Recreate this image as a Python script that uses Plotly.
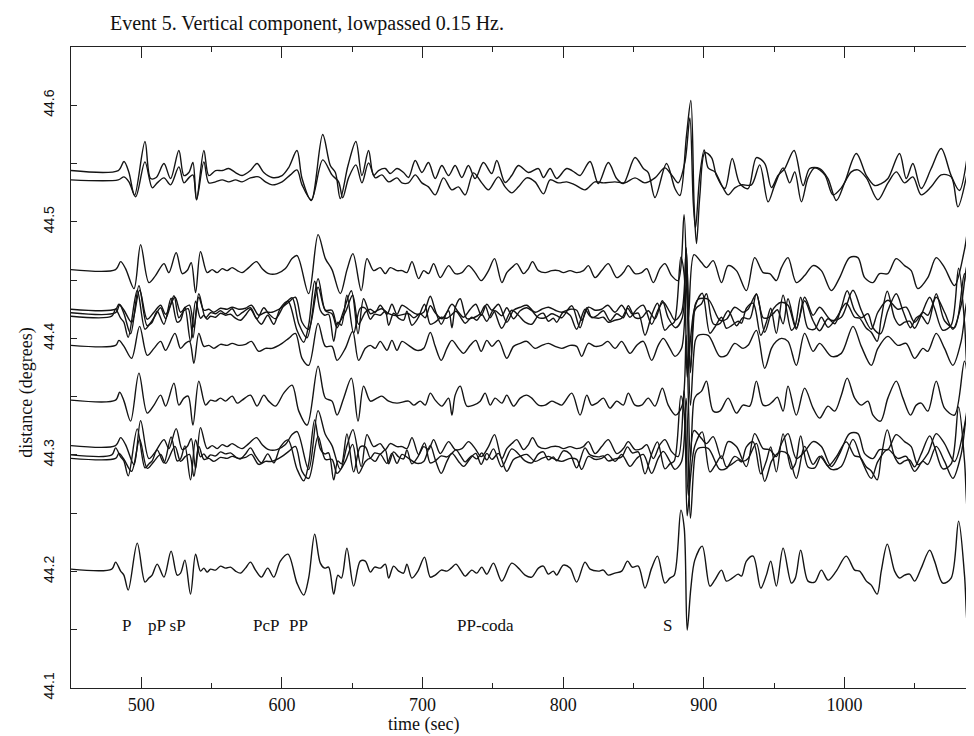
import plotly.graph_objects as go

# ---------------- data ----------------
# Epicentral distance (degrees) of each seismogram baseline
DISTANCES = [44.544, 44.536, 44.459, 44.425, 44.422, 44.419, 44.394, 44.347,
             44.308, 44.300, 44.297, 44.202]
# which recorded waveform is drawn at each distance
TRACE_WAVEFORMS = ["T1", "T2", "U1", "U2", "MID", "BOT", "U2", "MID",
                   "U1", "BOT", "U2", "BOT"]

# waveforms: (time in s, ground motion in plot amplitude units)
W_BOT = [(450,0),(479,0),(481.7,7),(485.3,-2),(487.6,-6),(490.7,-21),(497.1,26),(502.6,-13),(505.4,-9),(507.7,-6),(511.3,5),(516.1,-8),(521.2,18),(525.5,-6),(527.9,-4),(531,9),(535,-25),(538.6,15),(542.1,-2),(544.5,1),(546.8,-3),(549.2,0),(552.8,-1),(556.3,3),(559.9,1),(563.4,2),(567,-2),(570.5,-4),(574.1,1),(577.6,7),(581.2,-1),(585.4,-8),(589.9,1),(594.2,-8),(598.9,8),(604.3,15),(610.7,-14),(615.5,-26),(619,-9),(623.3,35),(627.3,6),(630.4,1),(633.2,2),(636.8,-25),(639.8,-6),(642.3,-9),(646.2,21),(651,-17),(655.7,8),(659.3,8),(662.9,-3),(665.9,2),(670,1),(673.5,5),(675.9,-9),(679.4,3),(683,-2),(686.5,-4),(688.9,5),(692.4,-9),(696.7,-2),(701.4,12),(705.5,-8),(709,-6),(713.3,-1),(717.3,-2),(720.4,1),(723.7,5),(727.5,-2),(730.3,-7),(735,-1),(738.6,-4),(742.1,2),(745.7,-5),(750.4,6),(756.3,-12),(763.4,6),(768.2,1),(772.9,-6),(777.6,-8),(782.4,1),(785.9,3),(789.5,-5),(793,-2),(795.4,-6),(800.1,4),(804.9,1),(809.6,-13),(815.5,7),(819.1,0),(825,-2),(828.6,-1),(832.1,-6),(836.8,-4),(841.6,-2),(845.8,8),(849.1,2),(853.4,3),(858.2,-19),(862.9,1),(867.1,13),(872.3,-14),(875.9,-9),(879,-6),(883.7,59),(886.1,41),(888.2,-61),(890.8,-19),(893.6,9),(898.9,23),(904.3,-17),(907.8,-11),(912.6,-1),(916.1,-12),(920.2,-9),(924.4,-5),(926.8,-7),(930.3,8),(935.1,13),(940.5,-19),(944.5,-6),(947.6,8),(951.6,-17),(956.4,21),(962.3,-14),(965.1,-9),(968.9,19),(974.1,-12),(978.9,-13),(983.6,-1),(988.4,-11),(994.2,-2),(1001.3,13),(1007.3,-1),(1010.8,-2),(1015.6,-12),(1019.1,-16),(1023.3,-25),(1026.2,-2),(1030.5,25),(1035.7,-2),(1039.3,-9),(1042.8,-6),(1046.4,-5),(1049.9,-12),(1054.6,1),(1060.6,19),(1064.1,8),(1070,-14),(1075.9,-9),(1081.2,48),(1085.4,-6),(1087.8,-62),(1091.3,-80),(1094.9,-60)]

W_MID = [(450,0),(481.7,0),(484.6,8),(487.7,-1),(492.4,-21),(498.3,27),(504.2,-13),(509,-5),(513.7,5),(517.3,-6),(523.2,17),(526.7,-5),(530.3,2),(533.3,4),(536.7,-25),(540.9,19),(545.7,-5),(549.2,0),(552.8,-1),(556.3,2),(559.9,-1),(564.6,4),(568.2,-3),(571.7,0),(577.6,5),(582.3,-6),(587.1,5),(590.6,-1),(595.4,-6),(601.3,7),(607.2,15),(612,-11),(617.9,-25),(625.7,34),(630.9,2),(635.6,-1),(639.2,-15),(643.9,2),(649.4,22),(654.1,-21),(658.1,14),(662.9,-1),(667.6,2),(671.1,4),(675.9,-1),(681.8,-3),(690.1,-1),(693.7,-5),(698.4,-1),(701.9,-5),(705.5,7),(709,0),(713.8,-6),(718.5,2),(720.9,-15),(723.2,5),(726.8,14),(731.5,-6),(736.3,-5),(741,-1),(744.5,7),(748.1,-5),(751.6,2),(756.4,-3),(759.9,5),(764.7,-6),(769.4,2),(774.1,5),(777.7,2),(782.4,-5),(787.2,-5),(791.9,-1),(795.4,-3),(799,-5),(806.1,7),(812,-15),(816.8,5),(820.3,-5),(823.9,-3),(828.6,2),(833.3,-8),(838.1,-1),(842.8,-5),(846.3,7),(851.1,-5),(855.8,-5),(860.5,2),(865.3,-6),(870.5,12),(874.7,-5),(880,-15),(884.7,-5),(887.5,65),(890.5,-60),(893,0),(894.8,5),(898.4,9),(901.9,19),(906.7,-11),(911.4,-11),(917.3,2),(923.2,-13),(927.9,-5),(932.7,-6),(937.4,19),(942.2,-5),(945.7,-5),(949.3,-1),(952.3,3),(956.4,-11),(959.9,14),(965.8,-15),(971.7,12),(977.7,-8),(982.4,-18),(988.3,-6),(993.1,-11),(997.8,5),(1002,22),(1007.3,2),(1012,-5),(1016.7,-1),(1020.3,-15),(1025.7,-21),(1030.9,2),(1036.9,19),(1041.6,2),(1047,-15),(1051.1,-5),(1054.6,-3),(1059.3,-11),(1065.3,19),(1071.2,-8),(1078.3,-15),(1085.4,39),(1089.6,-2),(1092.9,-35),(1097.2,-40)]

W_U1 = [(450,0),(481.7,0),(485.3,8),(488.8,1),(494.8,-19),(499.5,25),(505.4,-13),(510.1,-6),(516.1,6),(519.6,-3),(524.8,17),(529.1,-4),(532.6,-1),(535.5,7),(538.6,-23),(542.1,18),(546.8,-3),(550.4,0),(553.9,-3),(557.5,1),(561,-1),(564.6,2),(568.2,-1),(571.7,-3),(576.4,2),(581.9,8),(585.9,1),(590.6,-4),(596.5,-4),(602.5,1),(607.2,11),(610.8,14),(619,-24),(625.7,35),(630.9,11),(635.6,0),(641.5,-24),(646.3,0),(650.5,16),(656.4,-21),(660.5,11),(665.2,-1),(669.9,2),(673.5,-4),(677,2),(681.8,-1),(685.4,-1),(688.9,-3),(692.5,8),(697.2,-9),(700.8,-1),(704.3,-4),(707.9,6),(712.6,-8),(718.5,4),(723.2,-4),(728,-3),(732.7,4),(737.4,-3),(741.7,-11),(746.9,-1),(751.2,11),(756.4,-13),(759.9,-3),(763.5,2),(767,6),(771.8,-4),(775.3,1),(778.2,8),(782.4,-1),(787.2,-3),(791.9,-1),(796.6,-1),(800.2,-3),(804.9,-1),(809.6,-3),(814.4,-1),(817.9,4),(822.7,-8),(827.4,-1),(832.1,6),(838.1,-8),(842.8,-3),(846.3,4),(851.1,-4),(855.8,-3),(859.4,1),(864.1,-13),(868.8,1),(872.4,6),(877.1,-6),(881.8,-11),(886,55),(889,-50),(893,15),(898.4,7),(901.9,2),(906.7,9),(912.6,-13),(917.3,4),(923.2,-1),(930.3,-21),(936.2,12),(942.2,-3),(946.9,-4),(951.6,-11),(955.2,2),(959.9,12),(965.8,-13),(971.7,-6),(977.7,4),(983.6,-1),(990.7,-21),(996.6,-8),(1003.7,12),(1009.6,12),(1014.4,-8),(1020.3,-13),(1025,-4),(1030.9,-4),(1036.8,11),(1042.8,4),(1047.5,-1),(1052.2,-19),(1059.3,-8),(1065.3,12),(1071.2,2),(1078.3,-16),(1085.4,20),(1089.6,55),(1093.6,-50)]

W_U2 = [(450,0),(481.7,0),(484.1,5),(487.7,-1),(493.1,-13),(498.8,19),(504.2,-10),(509,-3),(513.7,4),(517.3,-5),(523.9,12),(527.9,-3),(531.4,2),(534.3,4),(537.4,-18),(540.9,12),(544.5,-1),(548,0),(551.6,-3),(556.3,1),(561,0),(564.6,2),(569.3,0),(574.1,1),(578.3,4),(583.5,-6),(588.3,-3),(593,-3),(600.1,2),(604.8,7),(609.6,12),(614.3,-13),(619,-20),(625.7,22),(630.9,-1),(635.6,-1),(639.2,-15),(645.1,-3),(650.3,14),(654.5,-15),(659.3,-3),(662.8,0),(666.4,-3),(669.9,4),(674.7,-5),(678.2,5),(681.8,-5),(685.4,4),(690.1,0),(696,-5),(700.8,-3),(705.5,13),(709,-1),(713.3,-15),(717.3,-3),(720.9,5),(725.6,-3),(729.2,-8),(733.9,0),(737.9,5),(741.7,-6),(745.7,5),(749.3,-1),(754,5),(759.9,-13),(764.7,-1),(769.4,2),(774.1,4),(780.1,-3),(784.8,0),(789.5,2),(794.3,-1),(799,-3),(804.9,0),(809.6,-1),(813.2,-11),(817.9,2),(822.7,-1),(827.4,0),(831.7,4),(836.9,-3),(841.6,4),(847.5,-8),(852.3,0),(857,4),(862.9,-15),(867.6,0),(871.2,7),(875.9,-3),(879.5,-11),(884.2,-3),(887.5,60),(890.5,-60),(894,5),(896,10),(903.1,10),(911.4,-11),(916.1,-10),(922,2),(927.9,-3),(931.5,0),(937.4,15),(943.3,-23),(948.1,-3),(951.6,4),(955.2,7),(959.9,4),(965.8,-20),(971.7,12),(977.7,-6),(982.4,2),(990.7,-11),(997.8,-8),(1006.1,19),(1012,-1),(1019.1,-20),(1023.8,-3),(1030.9,9),(1038,0),(1043.9,2),(1049.9,-13),(1055.8,-3),(1059.3,-6),(1065.3,12),(1071.2,-3),(1077.1,-20),(1083,4),(1087.3,45),(1091.3,-45),(1094.8,-60)]

W_T1 = [(450,0),(483.6,0),(487.7,9),(491.2,-2),(495.2,-25),(502.6,29),(506.6,-8),(510.6,-7),(516.1,7),(520.8,-8),(526.7,20),(530.3,-5),(533.8,-2),(536.7,8),(539.3,-29),(544.5,20),(548,-5),(552.8,0),(557.5,0),(562.2,2),(567,-2),(571.7,-5),(577.6,0),(582.3,7),(587.1,-2),(593,-7),(600.1,-5),(604.8,3),(610.7,20),(614.3,-8),(620.9,-30),(629,36),(634.4,5),(638,-2),(641.5,-28),(647,5),(652.6,29),(656.9,-5),(661.6,20),(665.2,-5),(668.7,0),(673.5,2),(677,-3),(681.8,2),(686.5,-2),(690,-7),(694.8,10),(699.5,-2),(704.2,8),(709,-8),(713.7,5),(718.5,-5),(723.2,5),(727.9,-7),(732.6,5),(737.4,-8),(743.3,8),(749.2,-3),(752.8,10),(758.7,-12),(763.4,-5),(768.2,5),(775.3,-2),(782.4,2),(786,-7),(790.7,2),(795.4,-8),(802.5,2),(808.4,-2),(812,-5),(819.1,9),(825,-13),(832.1,8),(838,-8),(842.8,-13),(851.1,13),(857,2),(860.5,-2),(865.3,-27),(873.5,7),(879.5,-18),(883,-25),(887.7,35),(890.8,70),(893.2,-38),(894.8,-73),(897.2,-25),(900.8,18),(905.5,13),(909,-5),(915,-18),(920.2,12),(925.6,-13),(931.5,-18),(937.4,13),(943.4,7),(948.1,-17),(952.8,-5),(957.6,2),(964.2,20),(970.6,-15),(975.3,2),(982.4,2),(988.3,-8),(994.3,-30),(1000.2,-12),(1008.5,17),(1015.6,-5),(1021.5,-15),(1026.2,-13),(1031,-8),(1039.2,17),(1044,-8),(1048.7,7),(1054.6,-18),(1061.7,2),(1068.8,22),(1075.9,-5),(1081.8,-20),(1087.8,18),(1090.6,60),(1093.7,-20),(1096.7,-60)]

W_T2 = [(450,0),(483.6,0),(487.7,3),(491.2,-2),(496,-17),(502.6,18),(507.8,-8),(511.3,-3),(516.1,2),(520.8,-5),(526.7,13),(530.3,-3),(533.8,2),(536.7,5),(539.3,-20),(544.5,18),(548,-3),(552.8,-2),(557.5,0),(562.2,-2),(567,0),(571.7,-2),(577.6,2),(583.5,3),(588.3,-2),(593,-5),(600.1,-2),(606,5),(610.7,10),(614.3,-5),(620.9,-20),(629,20),(635.6,5),(640.3,-2),(643.2,-18),(647.4,2),(652.6,15),(656.9,-3),(661.6,17),(666.4,2),(671.1,5),(675.9,-2),(681.8,2),(685.3,-3),(690,-3),(694.8,5),(699.5,-3),(704.2,-7),(709,-15),(714.9,2),(720.8,-10),(725.5,-7),(730.3,-15),(736.2,7),(742.1,-3),(746.8,-10),(753.9,3),(758.7,-7),(763.4,-13),(768.2,-7),(774.1,2),(780,-2),(786,-14),(790.7,0),(796.6,-3),(802.5,-2),(808.4,-5),(815.5,-10),(822.6,-2),(828.6,-3),(836.8,-2),(843.9,-3),(851.1,2),(858.1,-3),(865.3,2),(872.3,12),(877.1,5),(881.8,-3),(886.6,18),(890.1,62),(892.5,-22),(894.1,-48),(897.2,5),(900.3,30),(903.1,12),(907.9,8),(912.6,-5),(917.3,-15),(922.1,-8),(926.8,-5),(933.9,-5),(939.8,15),(945.7,-22),(950.5,-5),(956.4,12),(961.1,-3),(964.7,8),(969.4,-22),(974.1,2),(978.9,12),(986,5),(991.9,-15),(997.8,-8),(1004.9,8),(1009.6,10),(1015.6,2),(1023.8,-20),(1031,-3),(1036.9,8),(1042.8,-3),(1048.7,3),(1054.6,-15),(1061.7,-7),(1068.8,5),(1075.9,3),(1080.7,-27),(1086.6,2),(1090.8,42),(1093.7,22),(1096.7,-20)]

WAVEFORMS = {"BOT": W_BOT, "MID": W_MID, "U1": W_U1, "U2": W_U2, "T1": W_T1, "T2": W_T2}

# phase labels
PHASE_NAMES = ["P", "pP sP", "PcP", "PP", "PP-coda", "S"]
PHASE_TIMES = [489.4, 518.2, 588.5, 611.9, 744.7, 874.0]
PHASE_LABEL_DIST = 44.154

X_TICKS = [500, 600, 700, 800, 900, 1000]
Y_TICKS = [44.1, 44.2, 44.3, 44.4, 44.5, 44.6]

GAIN = 0.000858  # degrees of plot offset per amplitude unit

# ---------------- figure ----------------
SERIF = "Liberation Serif, Times New Roman, serif"
SANS = "Liberation Sans, Arial, sans-serif"

fig = go.Figure()
for dist, wname in zip(DISTANCES, TRACE_WAVEFORMS):
    wf = WAVEFORMS[wname]
    t = [p[0] for p in wf]
    y = [dist + GAIN * p[1] for p in wf]
    fig.add_trace(go.Scatter(x=t, y=y, mode="lines",
                             line=dict(color="#141414", width=1.4,
                                       shape="spline", smoothing=0.9),
                             hoverinfo="skip", showlegend=False))

for name, tt in zip(PHASE_NAMES, PHASE_TIMES):
    fig.add_annotation(x=tt, y=PHASE_LABEL_DIST, xref="x", yref="y", text=name,
                       showarrow=False, font=dict(family=SERIF, size=17, color="#111"))

fig.add_annotation(x=701, y=-0.0395, xref="x", yref="paper", text="time (sec)",
                   showarrow=False, yanchor="top", borderpad=0,
                   font=dict(family=SERIF, size=18, color="#111"))
fig.add_annotation(x=-0.05, y=0.46, xref="paper", yref="paper", text="distance (degrees)",
                   showarrow=False, textangle=-90, xanchor="center", yanchor="middle",
                   font=dict(family=SERIF, size=18, color="#111"))

fig.update_layout(
    width=974, height=736,
    margin=dict(l=63, r=4, t=39, b=56),
    plot_bgcolor="white", paper_bgcolor="white",
    showlegend=False,
    title=dict(text="Event 5. Vertical component, lowpassed 0.15 Hz.",
               xref="container", yref="container",
               x=102 / 974, xanchor="left", y=1 - 15 / 736, yanchor="middle",
               font=dict(family=SERIF, size=20, color="#111")),
)
fig.update_xaxes(range=[450, 1095], tickvals=X_TICKS, ticktext=[str(v) for v in X_TICKS],
                 ticks="inside", ticklen=11, tickwidth=1, tickcolor="#222",
                 minor=dict(tickvals=[550, 650, 750, 850, 950, 1050], ticks="inside",
                            ticklen=5, tickcolor="#222"),
                 showline=True, linecolor="#222", linewidth=1, mirror="ticks",
                 showgrid=False, zeroline=False, ticklabelstandoff=0,
                 tickfont=dict(family=SERIF, size=18, color="#111"))
fig.update_yaxes(range=[44.1, 44.65], tickvals=Y_TICKS, ticktext=["%.1f" % v for v in Y_TICKS],
                 ticks="inside", ticklen=6, tickwidth=1, tickcolor="#222",
                 minor=dict(tickvals=[44.15, 44.25, 44.35, 44.45, 44.55], ticks="inside",
                            ticklen=6, tickcolor="#222"),
                 showline=True, linecolor="#222", linewidth=1, mirror="ticks",
                 showgrid=False, zeroline=False, tickangle=-90, ticklabelstandoff=10,
                 tickfont=dict(family=SANS, size=14, color="#111"))

fig.write_html("out.html")
